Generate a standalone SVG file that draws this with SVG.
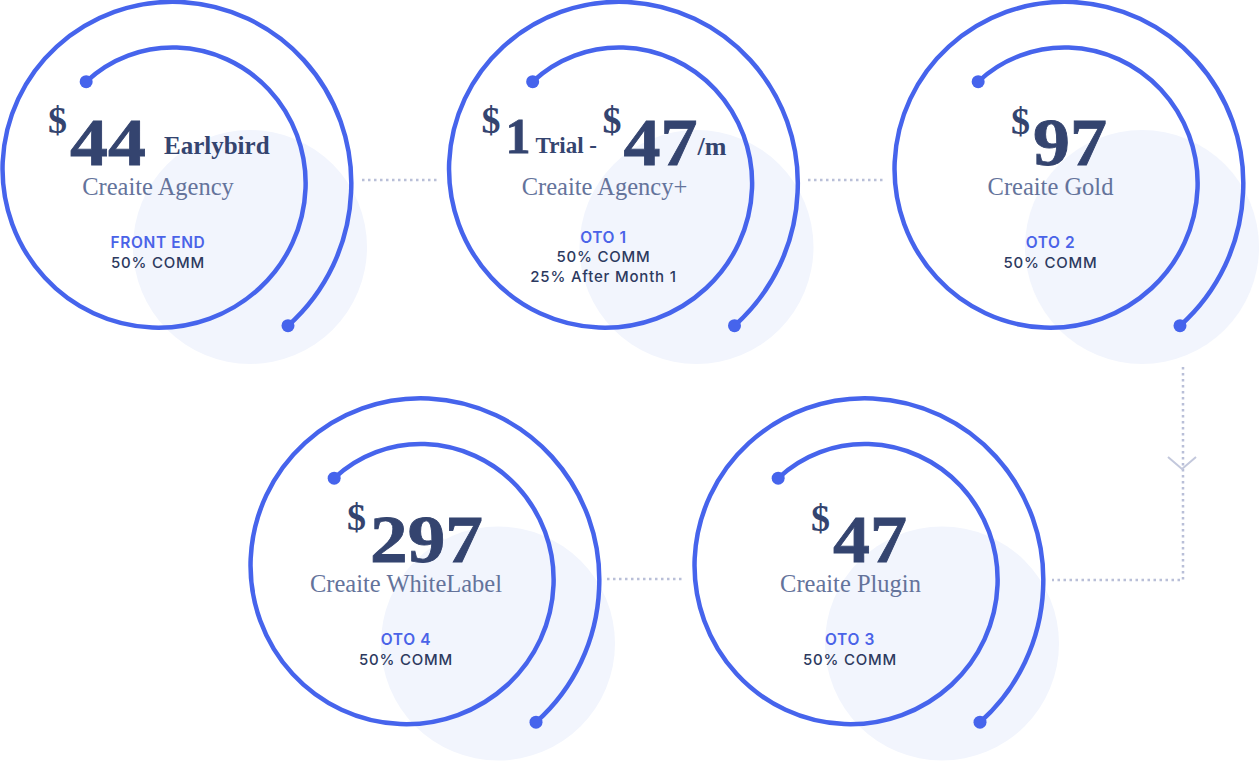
<svg xmlns="http://www.w3.org/2000/svg" xmlns:xlink="http://www.w3.org/1999/xlink" width="1260" height="763" viewBox="0 0 1260 763">
<style>
.bg{fill:#f2f5fd}
.sp{fill:none;stroke:#4664ec;stroke-width:4.5;stroke-linecap:round}
.dot{fill:#4664ec}
.price{font-family:"Liberation Serif",serif;font-weight:bold;fill:#34446f}
.num{stroke:#34446f;stroke-width:0.8}
.sub{font-family:"Liberation Serif",serif;font-size:24.5px;fill:#64739b;text-anchor:middle}
.lab{font-family:Inter,"Noto Sans",sans-serif;font-size:15.5px;font-weight:600;fill:#4a63e8;text-anchor:middle;letter-spacing:0.6px}
.com{font-family:Inter,"Noto Sans",sans-serif;font-size:15px;font-weight:500;fill:#2d3a5f;text-anchor:middle;letter-spacing:0.8px}
.dl{fill:none;stroke:#b9bfd8;stroke-width:2.5;stroke-dasharray:2.5 3.5}
</style>
<defs>
<g id="spiral">
<path class="sp" d="M -79.33 -94.54 A 126.3 126.3 0 0 1 11.26 -128.65 A 132.0 132.0 0 0 1 103.30 -86.68 A 137.7 137.7 0 0 1 140.03 12.25 A 143.4 143.4 0 0 1 94.03 112.05 A 149.1 149.1 0 0 1 -13.25 151.42 A 154.9 154.9 0 0 1 -120.81 101.38 A 160.6 160.6 0 0 1 -162.81 -14.24 A 166.3 166.3 0 0 1 -108.72 -129.56 A 172.0 172.0 0 0 1 15.24 -174.19 A 177.7 177.7 0 0 1 138.32 -116.07 A 183.4 183.4 0 0 1 185.58 16.24 A 189.1 189.1 0 0 1 122.5 149.5"/>
<circle class="dot" cx="-79.33" cy="-94.54" r="6.5"/>
<circle class="dot" cx="122.5" cy="149.5" r="6.5"/>
</g>
<g id="base">
<circle class="bg" cx="250" cy="247" r="117"/>
<use xlink:href="#spiral" href="#spiral" transform="translate(165.5,176.2)"/>
</g>
</defs>

<g id="connectors">
<line class="dl" x1="362" y1="180" x2="440" y2="180"/>
<line class="dl" x1="808" y1="180" x2="885" y2="180"/>
<polyline class="dl" points="1183,367 1183,580 1052,580"/>
<line class="dl" x1="607" y1="579" x2="685" y2="579"/>
<polyline points="1168,457 1182,469 1196,457" fill="none" stroke="#c3c8dc" stroke-width="2"/>
</g>

<g id="node-front-end">
<use xlink:href="#base" href="#base"/>
<text class="price" x="48" y="133" font-size="38">$</text>
<text class="price num" x="70" y="165" font-size="68" textLength="76" lengthAdjust="spacingAndGlyphs">44</text>
<text class="price" x="164" y="154" font-size="25">Earlybird</text>
<text class="sub" x="158" y="195">Creaite Agency</text>
<text class="lab" x="158" y="248">FRONT END</text>
<text class="com" x="158" y="268">50% COMM</text>
</g>

<g id="node-oto1" transform="translate(446.5,0)">
<use xlink:href="#base" href="#base"/>
<text class="price" x="35" y="133" font-size="38">$</text>
<text class="price num" x="59" y="153" font-size="50" textLength="25" lengthAdjust="spacingAndGlyphs">1</text>
<text class="price" x="89" y="153" font-size="23">Trial -</text>
<text class="price" x="156" y="133" font-size="38">$</text>
<text class="price num" x="177" y="165" font-size="68" textLength="74" lengthAdjust="spacingAndGlyphs">47</text>
<text class="price" x="251" y="155" font-size="26">/m</text>
<text class="sub" x="158" y="195">Creaite Agency+</text>
<text class="lab" x="157" y="243">OTO 1</text>
<text class="com" x="157" y="262">50% COMM</text>
<text class="com" x="157" y="282">25% After Month 1</text>
</g>

<g id="node-oto2" transform="translate(892,0)">
<use xlink:href="#base" href="#base"/>
<text class="price" x="119" y="134" font-size="38">$</text>
<text class="price num" x="141" y="165" font-size="68" textLength="74" lengthAdjust="spacingAndGlyphs">97</text>
<text class="sub" x="158.5" y="195">Creaite Gold</text>
<text class="lab" x="158.5" y="248">OTO 2</text>
<text class="com" x="158.5" y="268">50% COMM</text>
</g>

<g id="node-oto4" transform="translate(248,396.5)">
<use xlink:href="#base" href="#base"/>
<text class="price" x="99" y="133" font-size="38">$</text>
<text class="price num" x="122" y="165" font-size="68" textLength="113" lengthAdjust="spacingAndGlyphs">297</text>
<text class="sub" x="158" y="195">Creaite WhiteLabel</text>
<text class="lab" x="158" y="248">OTO 4</text>
<text class="com" x="158" y="268">50% COMM</text>
</g>

<g id="node-oto3" transform="translate(692,396.5)">
<use xlink:href="#base" href="#base"/>
<text class="price" x="119" y="134" font-size="38">$</text>
<text class="price num" x="141" y="165" font-size="68" textLength="74" lengthAdjust="spacingAndGlyphs">47</text>
<text class="sub" x="158.5" y="195">Creaite Plugin</text>
<text class="lab" x="158" y="248">OTO 3</text>
<text class="com" x="158" y="268">50% COMM</text>
</g>
</svg>
